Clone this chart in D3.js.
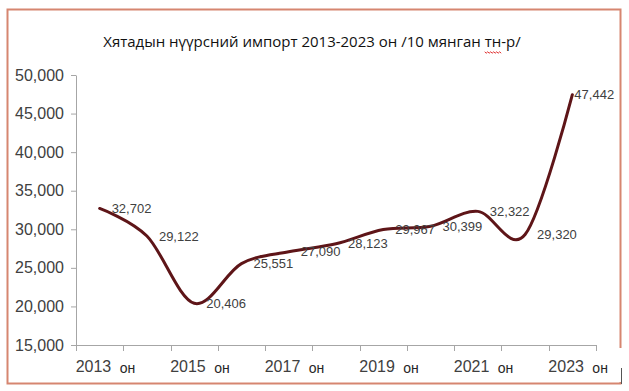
<!DOCTYPE html>
<html>
<head>
<meta charset="utf-8">
<script src="https://cdn.jsdelivr.net/npm/d3@7"></script>
<style>
  body { margin: 0; background: #fff; }
  text { font-family: "Liberation Sans", Arial, sans-serif; }
</style>
</head>
<body>
<script>
// chart data
var years = ["2013", "2014", "2015", "2016", "2017", "2018", "2019", "2020", "2021", "2022", "2023"];
var imports = [32702, 29122, 20406, 25551, 27090, 28123, 29967, 30399, 32322, 29320, 47442];
var yTicks = [15000, 20000, 25000, 30000, 35000, 40000, 45000, 50000];
var labelYears = ["2013", "2015", "2017", "2019", "2021", "2023"];
var yearSuffix = "он";
var title = "Хятадын нүүрсний импорт 2013-2023 он /10 мянган тн-р/";

var width = 629, height = 391;

var svg = d3.select("body").append("svg")
  .attr("width", width)
  .attr("height", height);

svg.append("rect")
  .attr("width", width).attr("height", height)
  .attr("fill", "#fff");

// outer frame
svg.append("rect")
  .attr("x", 7.5).attr("y", 9.5)
  .attr("width", 613).attr("height", 374)
  .attr("fill", "none")
  .attr("stroke", "#d68670")
  .attr("stroke-width", 2);

var x = d3.scaleBand().domain(years).range([76, 596]).padding(0);
var y = d3.scaleLinear().domain([15000, 50000]).range([345, 75]);
var cx = function(d) { return x(d) + x.bandwidth() / 2; };

// y axis
var yAxis = svg.append("g")
  .attr("transform", "translate(76,0)")
  .call(d3.axisLeft(y).tickValues(yTicks).tickSize(5).tickSizeOuter(0).tickFormat(d3.format(",")));
yAxis.select(".domain").attr("stroke", "#a6a6a6");
yAxis.selectAll(".tick line").attr("stroke", "#a6a6a6");
yAxis.selectAll(".tick text")
  .attr("x", -12)
  .attr("fill", "#404040")
  .style("font-size", "16px")
  .style("font-family", "'Liberation Sans', Arial, sans-serif");

// x axis (ticks between categories, like excel)
var xAxis = svg.append("g");
xAxis.append("line")
  .attr("x1", x.range()[0]).attr("x2", x.range()[1])
  .attr("y1", 345.5).attr("y2", 345.5)
  .attr("stroke", "#a6a6a6");
var bounds = years.map(function(d) { return x(d); }).concat([x.range()[1]]);
xAxis.selectAll(".xt")
  .data(bounds)
  .enter().append("line")
  .attr("class", "xt")
  .attr("x1", function(d) { return Math.round(d) + 0.5; })
  .attr("x2", function(d) { return Math.round(d) + 0.5; })
  .attr("y1", 345).attr("y2", 351)
  .attr("stroke", "#a6a6a6");

var xl = xAxis.selectAll(".xl")
  .data(labelYears)
  .enter().append("g")
  .attr("class", "xl");
xl.append("text")
  .attr("x", function(d) { return cx(d) - 24; })
  .attr("y", 372)
  .attr("fill", "#404040")
  .style("font-size", "16px")
  .text(function(d) { return d; });
xl.append("text")
  .attr("x", function(d) { return cx(d) + 20; })
  .attr("y", 373)
  .attr("fill", "#262626")
  .style("font-size", "14px")
  .text(yearSuffix);

// smoothed line
var line = d3.line()
  .x(function(d, i) { return cx(years[i]); })
  .y(function(d) { return y(d); })
  .curve(d3.curveCardinal.tension(0));

svg.append("path")
  .datum(imports)
  .attr("d", line)
  .attr("fill", "none")
  .attr("stroke", "#5e1518")
  .attr("stroke-width", 3)
  .attr("stroke-linecap", "round");

// data labels, to the right of each point (last one hugs the line end)
svg.selectAll(".dl")
  .data(imports)
  .enter().append("text")
  .attr("class", "dl")
  .attr("x", function(d, i) { return cx(years[i]) + (i === imports.length - 1 ? 2 : 12); })
  .attr("y", function(d) { return y(d); })
  .attr("dy", "0.35em")
  .attr("fill", "#404040")
  .style("font-size", "13px")
  .text(function(d) { return d3.format(",")(d); });

// title
var t = svg.append("text")
  .attr("x", 312)
  .attr("y", 47)
  .attr("text-anchor", "middle")
  .attr("fill", "#111")
  .style("font-size", "15px")
  .style("font-family", "'Open Sans', 'Liberation Sans', sans-serif")
  .text(title);

// spell-check squiggle under "тн"
var k = title.indexOf("тн");
var s0 = t.node().getStartPositionOfChar(k).x;
var s1 = t.node().getEndPositionOfChar(k + 1).x;
var pts = d3.range(s0, s1 + 0.1, 1.5).map(function(px, i) { return [px, 52 + (i % 2 ? 1.2 : -0.2)]; });
svg.append("path")
  .attr("d", d3.line()(pts))
  .attr("fill", "none")
  .attr("stroke", "#e03030")
  .attr("stroke-width", 1);

// text box over bottom-right corner of the frame
svg.append("rect")
  .attr("x", 612).attr("y", 348)
  .attr("width", 12).attr("height", 34)
  .attr("fill", "#fff");
svg.append("line")
  .attr("x1", 621.5).attr("x2", 621.5)
  .attr("y1", 368).attr("y2", 384)
  .attr("stroke", "#555");
</script>
</body>
</html>
